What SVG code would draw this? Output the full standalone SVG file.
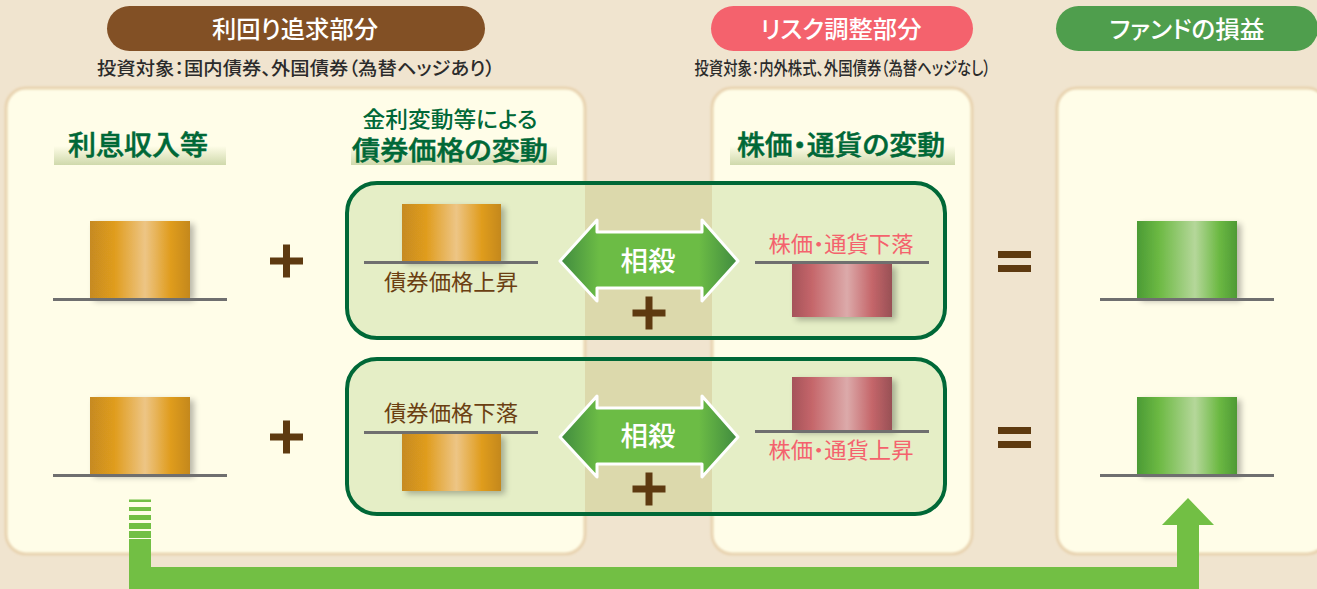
<svg xmlns="http://www.w3.org/2000/svg" width="1317" height="589" viewBox="0 0 1317 589">
<style>
text{font-family:"Noto Sans CJK JP","Noto Sans",sans-serif;text-anchor:middle;font-feature-settings:"palt"}
.pill{font-size:24px;font-weight:500;fill:#fff}
.sub{font-size:18.5px;font-weight:500;fill:#2b2b2b}
.hd{font-size:27px;font-weight:500;fill:#006837;stroke:#006837;stroke-width:.5}
.hd2{font-size:21.5px;font-weight:500;fill:#006837}
.br{font-size:22px;fill:#6b3f12}
.rd{font-size:21.5px;fill:#f4626d}
.ss{font-size:27px;font-weight:500;fill:#fff}
.panel{fill:#fffde8}
.edge{fill:none;stroke:#e8d3b0;stroke-width:3;filter:url(#soft)}
.box{fill:none;stroke:#006837;stroke-width:4}
.base{fill:#6f6f6f}
.plus{fill:#5e3a10}
.band{fill:url(#band)}
.conn{fill:#72bf44}
</style>
<defs>
<linearGradient id="gold"><stop offset="0" stop-color="#c68a20"/><stop offset=".25" stop-color="#e09d1f"/><stop offset=".55" stop-color="#edc585"/><stop offset=".8" stop-color="#e09d1f"/><stop offset="1" stop-color="#c4881f"/></linearGradient>
<linearGradient id="green"><stop offset="0" stop-color="#4b9b35"/><stop offset=".22" stop-color="#6cb943"/><stop offset=".58" stop-color="#b5d79a"/><stop offset=".82" stop-color="#6cb943"/><stop offset="1" stop-color="#4e9a35"/></linearGradient>
<linearGradient id="red"><stop offset="0" stop-color="#a5525a"/><stop offset=".2" stop-color="#c5666a"/><stop offset=".55" stop-color="#dcaaaa"/><stop offset=".8" stop-color="#c5666a"/><stop offset="1" stop-color="#985055"/></linearGradient>
<linearGradient id="band" x1="0" y1="0" x2="0" y2="1"><stop offset="0" stop-color="#fffde8"/><stop offset="1" stop-color="#cfd9ab"/></linearGradient>
<linearGradient id="arr"><stop offset="0" stop-color="#3f8a3f"/><stop offset=".22" stop-color="#6cbc45"/><stop offset=".78" stop-color="#6cbc45"/><stop offset="1" stop-color="#3f8a3f"/></linearGradient>
<filter id="soft" x="-5%" y="-5%" width="110%" height="110%"><feGaussianBlur stdDeviation="1.200"/></filter>
<filter id="sh" x="-20%" y="-20%" width="150%" height="150%"><feGaussianBlur in="SourceAlpha" stdDeviation="3"/><feOffset dx="4" dy="3"/><feComponentTransfer><feFuncA type="linear" slope=".28"/></feComponentTransfer><feMerge><feMergeNode/><feMergeNode in="SourceGraphic"/></feMerge></filter>
<path id="plusShape" d="M-3.500 -16.500H3.500V-3.500H16.500V3.500H3.500V16.500H-3.500V3.500H-16.500V-3.500H-3.500Z"/>
<path id="dbl" d="M560 261L597 220V232H702V220L738 261L702 301V288H597V301Z" fill="url(#arr)" stroke="#fff" stroke-width="3" stroke-linejoin="round"/>
</defs>
<rect width="1317" height="589" fill="#f0e4cf"/>

<g id="panel-yield"><rect class="panel" x="6" y="88" width="579" height="466" rx="20"/><rect class="edge" x="6" y="88" width="579" height="466" rx="20"/></g>
<g id="panel-risk"><rect class="panel" x="712" y="88" width="260" height="466" rx="20"/><rect class="edge" x="712" y="88" width="260" height="466" rx="20"/></g>
<g id="panel-fund"><rect class="panel" x="1057" y="88" width="270" height="466" rx="20"/><rect class="edge" x="1057" y="88" width="270" height="466" rx="20"/></g>

<g id="head-yield"><rect x="107" y="6" width="378" height="45" rx="22.500" fill="#825025"/><text class="pill" x="295" y="38" textLength="166" lengthAdjust="spacingAndGlyphs">利回り追求部分</text>
<text class="sub" x="296" y="75" textLength="398" lengthAdjust="spacingAndGlyphs">投資対象：国内債券、外国債券（為替ヘッジあり）</text></g>
<g id="head-risk"><rect x="711" y="6" width="262" height="45" rx="22.500" fill="#f4626d"/><text class="pill" x="841" y="38" textLength="161" lengthAdjust="spacingAndGlyphs">リスク調整部分</text>
<text class="sub" x="842.500" y="75" textLength="296" lengthAdjust="spacingAndGlyphs">投資対象：内外株式、外国債券（為替ヘッジなし）</text></g>
<g id="head-fund"><rect x="1056" y="6" width="262" height="45" rx="22.500" fill="#4f9e4d"/><text class="pill" x="1187" y="38" textLength="155" lengthAdjust="spacingAndGlyphs">ファンドの損益</text></g>

<g id="label-interest"><rect class="band" x="54" y="146" width="172" height="19"/><text class="hd" x="138" y="155" textLength="140" lengthAdjust="spacingAndGlyphs">利息収入等</text></g>
<g id="label-bond"><rect class="band" x="351" y="146" width="206" height="19"/><text class="hd2" x="450" y="127" textLength="175" lengthAdjust="spacingAndGlyphs">金利変動等による</text><text class="hd" x="450" y="160" font-size="26" style="font-size:26px" textLength="196" lengthAdjust="spacingAndGlyphs">債券価格の変動</text></g>
<g id="label-stock"><rect class="band" x="730" y="146" width="225" height="19"/><text class="hd" x="841" y="155" textLength="208" lengthAdjust="spacingAndGlyphs">株価・通貨の変動</text></g>

<g id="box-upper">
<rect x="346" y="183" width="599" height="155" rx="30" fill="#e5eec6"/>
<rect x="585" y="183" width="127" height="155" fill="#dcd9ac"/>
<rect class="box" x="347" y="183" width="598" height="155" rx="30"/>
</g>
<g id="box-lower">
<rect x="346" y="359" width="599" height="155" rx="30" fill="#e5eec6"/>
<rect x="585" y="359" width="127" height="155" fill="#dcd9ac"/>
<rect class="box" x="347" y="359" width="598" height="155" rx="30"/>
</g>

<g id="income-1"><rect x="90" y="221" width="100" height="77" fill="url(#gold)" filter="url(#sh)"/><rect class="base" x="53" y="298" width="174" height="3"/></g>
<g id="income-2"><rect x="90" y="397" width="100" height="77" fill="url(#gold)" filter="url(#sh)"/><rect class="base" x="53" y="474" width="174" height="3"/></g>
<g id="plus-1"><use href="#plusShape" class="plus" x="286.500" y="261"/></g>
<g id="plus-2"><use href="#plusShape" class="plus" x="286.500" y="437"/></g>

<g id="bond-up"><rect x="402" y="204" width="99" height="57" fill="url(#gold)" filter="url(#sh)"/><rect class="base" x="364" y="261" width="174" height="3"/><text class="br" x="451" y="290" textLength="134" lengthAdjust="spacingAndGlyphs">債券価格上昇</text></g>
<g id="bond-down"><rect x="402" y="434" width="99" height="57" fill="url(#gold)" filter="url(#sh)"/><rect class="base" x="364" y="431" width="174" height="3"/><text class="br" x="451" y="421" textLength="134" lengthAdjust="spacingAndGlyphs">債券価格下落</text></g>

<g id="offset-1"><use href="#dbl"/><text class="ss" x="648" y="271" textLength="55" lengthAdjust="spacingAndGlyphs">相殺</text></g>
<g id="offset-2"><use href="#dbl" y="176"/><text class="ss" x="648" y="446" textLength="55" lengthAdjust="spacingAndGlyphs">相殺</text></g>
<g id="plus-3"><use href="#plusShape" class="plus" x="649" y="313"/></g>
<g id="plus-4"><use href="#plusShape" class="plus" x="649" y="489"/></g>

<g id="stock-down"><rect x="792" y="264" width="100" height="53" fill="url(#red)" filter="url(#sh)"/><rect class="base" x="755" y="261" width="174" height="3"/><text class="rd" x="841" y="252" textLength="145" lengthAdjust="spacingAndGlyphs">株価・通貨下落</text></g>
<g id="stock-up"><rect x="792" y="377" width="100" height="53" fill="url(#red)" filter="url(#sh)"/><rect class="base" x="755" y="430" width="174" height="3"/><text class="rd" x="841" y="458" textLength="145" lengthAdjust="spacingAndGlyphs">株価・通貨上昇</text></g>

<g id="equals-1" class="plus"><rect x="998" y="251" width="33" height="7"/><rect x="998" y="265" width="33" height="7"/></g>
<g id="equals-2" class="plus"><rect x="998" y="427" width="33" height="7"/><rect x="998" y="441" width="33" height="7"/></g>

<g id="fund-1"><rect x="1137" y="221" width="100" height="77" fill="url(#green)" filter="url(#sh)"/><rect class="base" x="1100" y="298" width="174" height="3"/></g>
<g id="fund-2"><rect x="1137" y="397" width="100" height="77" fill="url(#green)" filter="url(#sh)"/><rect class="base" x="1100" y="474" width="174" height="3"/></g>

<g id="connectors">
<g class="conn"><rect x="129" y="499.500" width="22" height="2.500"/><rect x="129" y="507" width="22" height="4"/><rect x="129" y="515" width="22" height="5"/><rect x="129" y="523" width="22" height="6"/><rect x="129" y="531" width="22" height="7"/></g>
<path class="conn" d="M129 539H151V567H1177V525H1162L1188 498L1214 525H1199V589H129Z"/>
</g>
</svg>
